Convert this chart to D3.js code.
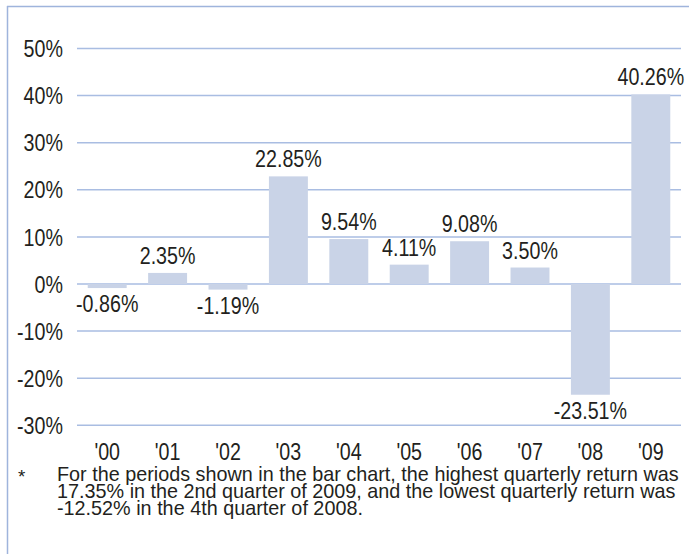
<!DOCTYPE html>
<html>
<head>
<meta charset="utf-8">
<script src="https://cdn.jsdelivr.net/npm/d3@7/dist/d3.min.js"></script>
<style>
  html, body { margin: 0; padding: 0; background: #fff; }
  svg { display: block; }
  text { font-family: "Liberation Sans", Arial, sans-serif; fill: #231f20; }
</style>
</head>
<body>
<svg id="chart" width="689" height="554"></svg>
<script>
const categories = ["'00", "'01", "'02", "'03", "'04", "'05", "'06", "'07", "'08", "'09"];
const values = [-0.86, 2.35, -1.19, 22.85, 9.54, 4.11, 9.08, 3.50, -23.51, 40.26];
const yTicks = [50, 40, 30, 20, 10, 0, -10, -20, -30];
const footnoteMark = "*";
const footnoteLines = [
  "For the periods shown in the bar chart, the highest quarterly return was",
  "17.35% in the 2nd quarter of 2009, and the lowest quarterly return was",
  "-12.52% in the 4th quarter of 2008."
];

const svg = d3.select("#chart");
const W = 689, H = 554;

const borderColor = "#9fb4dc";
const gridColor = "#a9bde2";
const barColor = "#c9d3e7";
const SX = 0.82;      // horizontal condensing of labels
const FS = 24;        // label font size

// frame (top + left)
svg.append("line").attr("x1", 7).attr("x2", W).attr("y1", 6.5).attr("y2", 6.5)
  .attr("stroke", borderColor).attr("stroke-width", 1.5);
svg.append("line").attr("x1", 7.5).attr("x2", 7.5).attr("y1", 6).attr("y2", H)
  .attr("stroke", borderColor).attr("stroke-width", 1.5);

const x = d3.scaleBand().domain(categories).range([77, 681]).paddingInner(0.355).paddingOuter(0.1775);
const y = d3.scaleLinear().domain([-30, 50]).range([425.3, 48.5]);

// gridlines
svg.append("g").selectAll("line").data(yTicks).join("line")
  .attr("x1", 77).attr("x2", 681)
  .attr("y1", d => y(d)).attr("y2", d => y(d))
  .attr("stroke", gridColor).attr("stroke-width", 1.5);

// y tick labels
svg.append("g").selectAll("g").data(yTicks.map(v => ({v, x: 63, y: y(v) + 8.6}))).join("g")
  .attr("transform", d => `translate(${d.x},${d.y}) scale(${SX},1)`)
  .append("text")
  .attr("text-anchor", "end")
  .style("font-size", FS + "px")
  .text(d => d.v + "%");

// bars
svg.append("g").selectAll("rect").data(values).join("rect")
  .attr("x", (d, i) => x(categories[i]))
  .attr("width", x.bandwidth())
  .attr("y", d => Math.min(y(d), y(0)))
  .attr("height", d => Math.abs(y(d) - y(0)))
  .attr("fill", barColor);

// value labels
const fmt = v => (v < 0 ? "-" : "") + d3.format(".2f")(Math.abs(v)) + "%";
svg.append("g").selectAll("g")
  .data(values.map((v, i) => ({v, x: x(categories[i]) + x.bandwidth() / 2, y: v >= 0 ? y(v) - 9 : y(v) + 24})))
  .join("g")
  .attr("transform", d => `translate(${d.x},${d.y}) scale(${SX},1)`)
  .append("text")
  .attr("text-anchor", "middle")
  .style("font-size", FS + "px")
  .text(d => fmt(d.v));

// x labels
svg.append("g").selectAll("g")
  .data(categories.map(c => ({c, x: x(c) + x.bandwidth() / 2, y: 460})))
  .join("g")
  .attr("transform", d => `translate(${d.x},${d.y}) scale(${SX},1)`)
  .append("text")
  .attr("text-anchor", "middle")
  .style("font-size", FS + "px")
  .text(d => d.c);

// footnote
const FN = 20;
const fnG = svg.append("g");
const fnTexts = fnG.selectAll("g")
  .data(footnoteLines.map((t, i) => ({t, y: 481 + i * 16.8})))
  .join("g");
const fnText = fnTexts.append("text")
  .style("font-size", FN + "px")
  .text(d => d.t);
const firstLen = fnText.node().getComputedTextLength();
const FNX = 622 / firstLen;
fnTexts.attr("transform", d => `translate(57,${d.y}) scale(${FNX},1)`);
svg.append("g").attr("transform", `translate(18,483) scale(${FNX},1)`)
  .append("text").style("font-size", "19px").text(footnoteMark);
</script>
</body>
</html>
